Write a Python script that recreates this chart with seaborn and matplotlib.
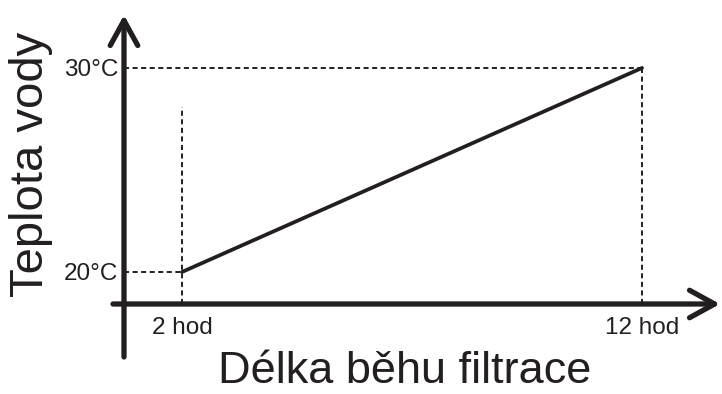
import seaborn as sns
import matplotlib.pyplot as plt

# data
hours = [2, 12]
temps = [20, 30]
x_tick_labels = ['2 hod', '12 hod']
y_tick_labels = ['20°C', '30°C']
guide_top_2h = 28.1  # the dotted line at 2 h stops here

ink = '#231f20'

sns.set_theme(style='white')
plt.rcParams['font.family'] = ['Liberation Sans', 'DejaVu Sans']

fig = plt.figure(figsize=(7.22, 3.94), dpi=100)
ax = fig.add_axes([124 / 722, 90 / 394, 576 / 722, 274 / 394])
ax.set_xlim(0.739, 13.26)
ax.set_ylim(18.43, 31.86)

sns.lineplot(x=hours, y=temps, color=ink, lw=2.7, ax=ax)

x0 = ax.get_xlim()[0]
y0 = ax.get_ylim()[0]
dash = dict(color=ink, lw=1.4, linestyles=[(0, (2.6, 1.8))])
ax.hlines(temps[1], x0, hours[1], **dash)
ax.hlines(temps[0], x0, hours[0], **dash)
ax.vlines(hours[1], y0, temps[1], **dash)
ax.vlines(hours[0], y0, guide_top_2h, **dash)

for s in ax.spines.values():
    s.set_visible(False)

ax.set_xticks(hours, x_tick_labels)
ax.set_yticks(temps, y_tick_labels)
ax.tick_params(axis='x', length=0, pad=9, labelsize=17.5, labelcolor=ink)
ax.tick_params(axis='y', length=0, pad=4, labelsize=17.5, labelcolor=ink)

ax.set_xlabel('Délka běhu filtrace', fontsize=32.5, color=ink, va='center')
ax.xaxis.set_label_coords(0.488, -0.248)
ax.set_ylabel('Teplota vody', fontsize=34, color=ink, va='center')
ax.yaxis.set_label_coords(-0.162, 0.511)

# axis arrows
arrow = dict(arrowstyle='->,head_length=0.6,head_width=0.33', lw=3.8,
             color=ink, mutation_scale=30, shrinkA=0, shrinkB=0)
ax.annotate('', xy=(720 / 722, 90 / 394), xytext=(113 / 722, 90 / 394),
            xycoords='figure fraction', textcoords='figure fraction',
            arrowprops=arrow)
ax.annotate('', xy=(124 / 722, 379 / 394), xytext=(124 / 722, 37 / 394),
            xycoords='figure fraction', textcoords='figure fraction',
            arrowprops=arrow)

fig.savefig('out.png', dpi=100, facecolor='white')
